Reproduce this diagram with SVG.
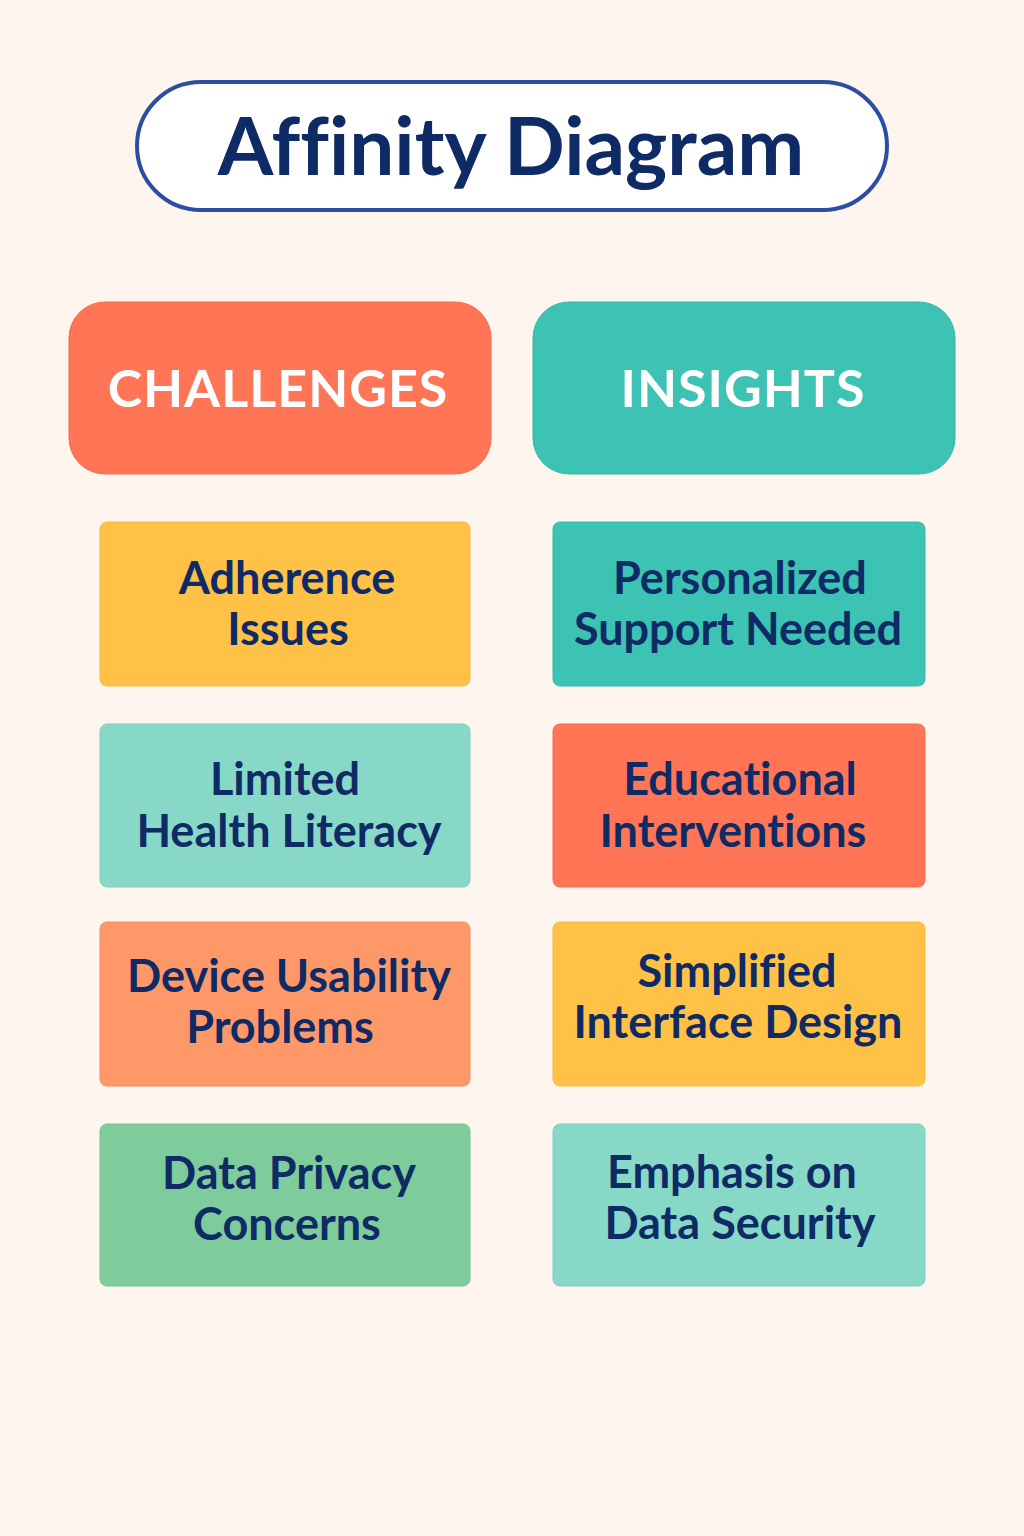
<svg xmlns="http://www.w3.org/2000/svg" width="1024" height="1536" viewBox="0 0 1024 1536">
  <style>
    text { font-variant-ligatures: none; }
    .title { font-family: "Lato", "Open Sans", "Liberation Sans", sans-serif; font-weight: 700; font-size: 80px; fill: #0F2B66; text-anchor: middle; }
    .head { font-family: "Lato", "Open Sans", "Liberation Sans", sans-serif; font-weight: 700; font-size: 52px; fill: #FFFFFF; text-anchor: middle; letter-spacing: 1px; }
    .card { font-family: "Lato", "Open Sans", "Liberation Sans", sans-serif; font-weight: 700; font-size: 45px; fill: #0F2B66; text-anchor: middle; }
    .yellow { fill: #FFC247; stroke: #F9B93A; stroke-width: 1; }
    .mint { fill: #88D8C8; stroke: #7CD0BF; stroke-width: 1; }
    .orange { fill: #FF9868; stroke: #F98C5D; stroke-width: 1; }
    .green { fill: #7ECB9B; stroke: #74C291; stroke-width: 1; }
    .teal { fill: #3CC3B3; stroke: #34B9A9; stroke-width: 1; }
    .coral { fill: #FF7555; stroke: #F7694A; stroke-width: 1; }
  </style>
  <rect width="1024" height="1536" fill="#FDF5EE"/>

  <!-- Title -->
  <g id="title">
    <rect x="137" y="82" width="750" height="128" rx="64" fill="#FFFFFF" stroke="#2B4EA2" stroke-width="4"/>
    <text class="title" x="511" y="175">Affinity Diagram</text>
  </g>

  <!-- Column headers -->
  <g id="challenges">
    <rect class="coral" x="69" y="302" width="422" height="172" rx="36"/>
    <text class="head" x="278" y="407">CHALLENGES</text>
  </g>
  <g id="insights">
    <rect class="teal" x="533" y="302" width="422" height="172" rx="36"/>
    <text class="head" x="743" y="407">INSIGHTS</text>
  </g>

  <!-- Challenge cards -->
  <g id="adherence-issues">
    <rect class="yellow" x="100" y="522" width="370" height="164" rx="7"/>
    <text class="card" x="287" y="594">Adherence</text>
    <text class="card" x="288" y="645">Issues</text>
  </g>
  <g id="limited-health-literacy">
    <rect class="mint" x="100" y="724" width="370" height="163" rx="7"/>
    <text class="card" x="285" y="795">Limited</text>
    <text class="card" x="289" y="847">Health Literacy</text>
  </g>
  <g id="device-usability-problems">
    <rect class="orange" x="100" y="922" width="370" height="164" rx="7"/>
    <text class="card" x="289" y="992">Device Usability</text>
    <text class="card" x="280" y="1043">Problems</text>
  </g>
  <g id="data-privacy-concerns">
    <rect class="green" x="100" y="1124" width="370" height="162" rx="7"/>
    <text class="card" x="289" y="1189">Data Privacy</text>
    <text class="card" x="287" y="1240">Concerns</text>
  </g>

  <!-- Insight cards -->
  <g id="personalized-support">
    <rect class="teal" x="553" y="522" width="372" height="164" rx="7"/>
    <text class="card" x="740" y="594">Personalized</text>
    <text class="card" x="738" y="645">Support Needed</text>
  </g>
  <g id="educational-interventions">
    <rect class="coral" x="553" y="724" width="372" height="163" rx="7"/>
    <text class="card" x="740" y="795">Educational</text>
    <text class="card" x="733" y="847">Interventions</text>
  </g>
  <g id="simplified-interface">
    <rect class="yellow" x="553" y="922" width="372" height="164" rx="7"/>
    <text class="card" x="737" y="987">Simplified</text>
    <text class="card" x="738" y="1038">Interface Design</text>
  </g>
  <g id="data-security">
    <rect class="mint" x="553" y="1124" width="372" height="162" rx="7"/>
    <text class="card" x="732" y="1188">Emphasis on</text>
    <text class="card" x="740" y="1239">Data Security</text>
  </g>

  <!-- no connectors in this diagram -->
  <g id="connectors"/>
</svg>
